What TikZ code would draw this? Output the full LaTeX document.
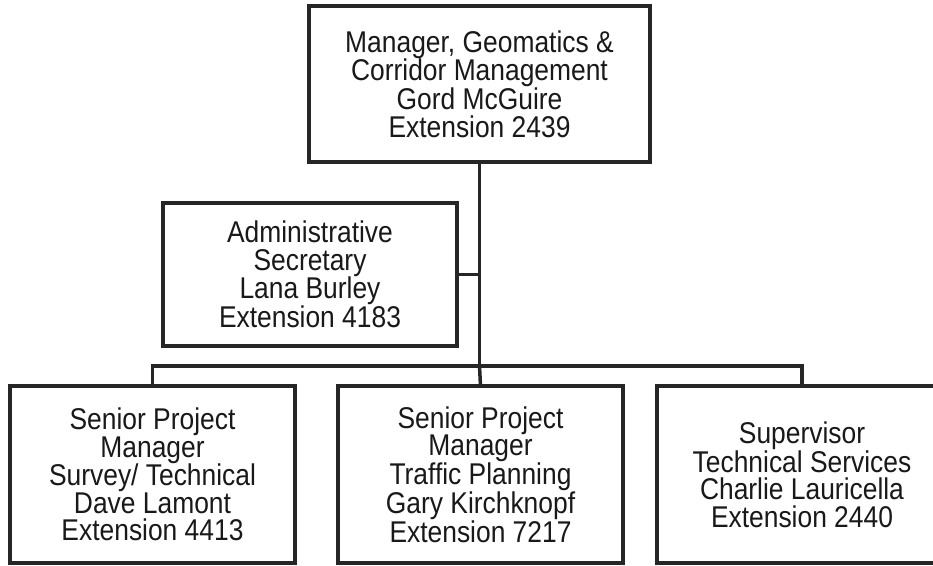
\documentclass[tikz,border=0pt]{standalone}
\usepackage{fontspec}
\setmainfont{Liberation Sans}[FakeStretch=0.88]
\newcommand{\chartfont}{\fontsize{30}{27.5}\selectfont}

\begin{document}
\begin{tikzpicture}[x=1pt,y=-1pt,
  box/.style={draw=black!85,line width=3.5pt,fill=white,align=center,
    font=\chartfont,text=black!90,inner sep=0pt,outer sep=0pt},
  wire/.style={draw=black!85,line width=3.5pt}]
\useasboundingbox (0,0) rectangle (933,565);
\clip (0,0) rectangle (933,565);
\node[box,minimum width=341pt,minimum height=156pt] (mgr) at (479.5,84)
     {Manager, Geomatics \&\\Corridor Management\\Gord McGuire\\Extension 2439};
\node[box,minimum width=294pt,minimum height=143pt] (admin) at (310,274.5)
     {Administrative\\Secretary\\Lana Burley\\Extension 4183};
\node[box,minimum width=285pt,minimum height=177pt] (spm-1) at (152.5,474.5)
     {Senior Project\\Manager\\Survey/ Technical\\Dave Lamont\\Extension 4413};
\node[box,minimum width=285pt,minimum height=177pt] (spm-2) at (480.5,474.5)
     {Senior Project\\Manager\\Traffic Planning\\Gary Kirchknopf\\Extension 7217};
\node[box,minimum width=290pt,minimum height=177pt] (sup) at (802,474.5)
     {Supervisor\\Technical Services\\Charlie Lauricella\\Extension 2440};
\coordinate (bus) at (479.5,366);

\draw[wire] (mgr.south) -- (bus);
\draw[wire] (admin.east) -- (admin.east -| mgr.south);
\draw[wire] (spm-1.north) |- (bus) -| (sup.north);
\draw[wire] (bus) -- (spm-2.north);
\end{tikzpicture}
\end{document}
